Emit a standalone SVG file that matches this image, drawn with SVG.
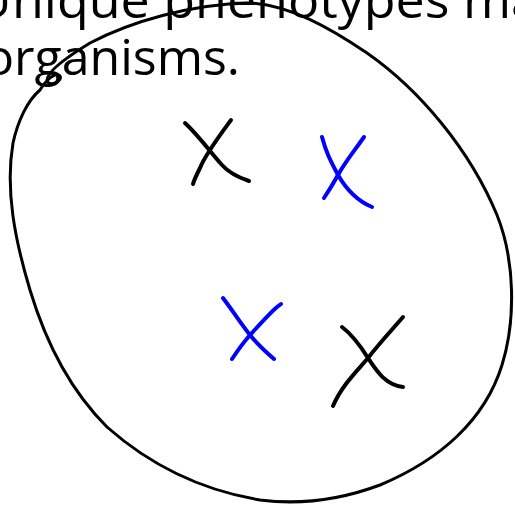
<svg xmlns="http://www.w3.org/2000/svg" width="515" height="505" viewBox="0 0 515 505">
<style>
.t{font-family:"Open Sans","Liberation Sans",sans-serif;font-size:50px;fill:#000}
.ink{fill:none;stroke-linecap:round;stroke-linejoin:round}
.blob{stroke:#000;stroke-width:3}
.xk{stroke:#000;stroke-width:4}
.xb{stroke:#0000ff;stroke-width:4}
</style>
<rect width="515" height="505" fill="#fff"/>
<g id="caption">
<text class="t" x="-26" y="18" textLength="566" lengthAdjust="spacingAndGlyphs">Unique phenotypes ma</text>
<text class="t" x="-16" y="75" textLength="256" lengthAdjust="spacingAndGlyphs">organisms.</text>
</g>
<g id="population">
<path class="ink blob" d="M40,90 C46,80 56,71 60,76 C63,81 50,87 47,81 C46,73 62,60 90,43 C130,22 190,4 250,3 C290,5 330,28 367,53 C420,90 470,150 497,215 C515,260 516,320 502,365 C485,420 440,460 380,485 C340,500 300,505 260,500 C200,490 150,465 107,427 C70,390 45,340 30,290 C15,240 5,190 13,143 C18,120 28,100 40,90"/>
</g>
<g id="x-black-1">
<path class="ink xk" d="M185,123 C200,137 210,152 222,165 C230,174 240,178 249,181"/>
<path class="ink xk" d="M231,120 C220,135 205,155 200,168 C196,176 194,180 193,184"/>
</g>
<g id="x-blue-1">
<path class="ink xb" d="M322,137 C326,152 330,160 338,175 C345,187 355,200 372,207"/>
<path class="ink xb" d="M364,137 C355,150 345,162 338,175 C333,184 328,192 324,198"/>
</g>
<g id="x-blue-2">
<path class="ink xb" d="M223,298 C235,314 242,325 250,335 C258,345 266,352 274,359"/>
<path class="ink xb" d="M281,304 L277,307 C270,313 262,322 250,335 C243,343 238,350 232,359"/>
</g>
<g id="x-black-2">
<path class="ink xk" d="M342,327 C350,333 358,342 368,358 C376,370 385,385 403,387"/>
<path class="ink xk" d="M403,317 C390,332 378,345 368,358 C358,370 342,385 333,406"/>
</g>
</svg>
